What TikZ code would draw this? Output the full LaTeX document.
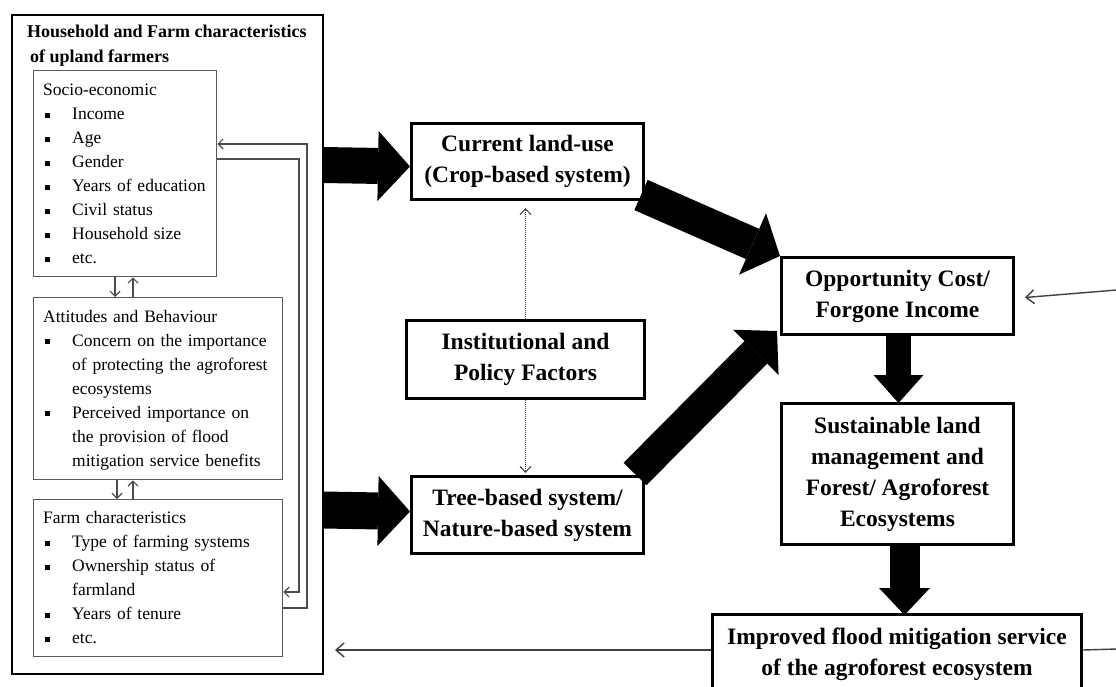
\documentclass[tikz,border=0pt]{standalone}
\usepackage{fontspec}
\setmainfont{Liberation Serif}
\usetikzlibrary{arrows.meta,calc}
% bullet and hanging indent for the item lists
\newcommand\blt{\makebox[29pt][l]{\hspace{1.5pt}\rule[2pt]{5pt}{5pt}}}
\newcommand\cnt{\hspace*{29pt}}

\tikzset{
  outerbox/.style={draw=black, line width=2.2pt, inner sep=0pt, anchor=north west},
  panel/.style={draw=black!65, line width=1.3pt, inner sep=0pt, anchor=north west},
  listtext/.style={inner sep=0pt, anchor=north west, align=left, text width=245pt,
    font=\fontsize{17.5}{24}\selectfont},
  titletext/.style={inner sep=0pt, anchor=north west, align=left,
    font=\fontsize{18}{25}\selectfont\bfseries},
  keybox/.style={draw=black, line width=3pt, inner sep=0pt, anchor=north west,
    align=center, font=\fontsize{23.5}{31}\selectfont\bfseries},
  bigarrow/.style n args={3}{draw=black, line width=#1,
    -{Triangle[width=#2, length=#3, line width=0pt]}},
  fb/.style={draw=black!70, line width=1.2pt, -{Straight Barb[length=5pt, width=10pt]}},
  longfb/.style={draw=black!75, line width=1.4pt, -{Straight Barb[length=8pt, width=14pt]}},
  dotarrow/.style={draw=black!75, line width=1pt, densely dotted,
    -{Straight Barb[length=6pt, width=11pt]}}
}

\begin{document}
\begin{tikzpicture}[x=1pt, y=-1pt]
\fill[white] (0,0) rectangle (1116,687);
\clip (0,0) rectangle (1116,687);

% household and farm characteristics panel
\node[outerbox, minimum width=311pt, minimum height=659pt] (hh) at (11,14) {};
\node[titletext] (title) at (27,19.5)
  {\strut Household and Farm characteristics\\\hspace*{3pt}of upland farmers};

\node[panel, minimum width=183pt, minimum height=206pt] (socio) at (33,70) {};
\node[listtext] (sociotxt) at ($(socio.north west)+(10,8.7)$)
  {\strut Socio-economic\\ \blt Income\\ \blt Age\\ \blt Gender\\
   \blt Years of education\\ \blt Civil status\\ \blt Household size\\ \blt etc.};

\node[panel, minimum width=249pt, minimum height=182pt] (att) at (33,297) {};
\node[listtext] (atttxt) at ($(att.north west)+(10,8)$)
  {\strut Attitudes and Behaviour\\ \blt Concern on the importance\\
   \cnt of protecting the agroforest\\ \cnt ecosystems\\
   \blt Perceived importance on\\ \cnt the provision of flood\\
   \cnt mitigation service benefits};

\node[panel, minimum width=249pt, minimum height=157pt] (farm) at (33,499) {};
\node[listtext] (farmtxt) at ($(farm.north west)+(10,7.5)$)
  {\strut Farm characteristics\\ \blt Type of farming systems\\
   \blt Ownership status of\\ \cnt farmland\\ \blt Years of tenure\\ \blt etc.};

% links inside the panel
\draw[fb] ($(socio.south west)+(82,0)$) -- ($(att.north west)+(82,0)$);
\draw[fb] ($(att.north west)+(100,0)$) -- ($(socio.south west)+(100,0)$);
\draw[fb] ($(att.south west)+(84,0)$) -- ($(farm.north west)+(84,0)$);
\draw[fb] ($(farm.north west)+(100,0)$) -- ($(att.south west)+(100,0)$);
\draw[fb] ($(farm.north east)+(0,109)$) -| (307,144) -- ($(socio.north east)+(0,74)$);
\draw[fb] ($(socio.north east)+(0,89)$) -| (299,592) -- ($(farm.north east)+(0,93)$);

% main boxes
\node[keybox, minimum width=232pt, minimum height=76pt] (current) at (410,122)
  {Current land-use\\(Crop-based system)};
\node[keybox, minimum width=238pt, minimum height=78pt] (inst) at (405,319)
  {Institutional and\\Policy Factors};
\node[keybox, minimum width=232pt, minimum height=77pt] (tree) at (410,475)
  {Tree-based system/\\Nature-based system};
\node[keybox, minimum width=232pt, minimum height=77pt] (opp) at (780,256)
  {Opportunity Cost/\\Forgone Income};
\node[keybox, minimum width=232pt, minimum height=141pt] (sust) at (780,402)
  {Sustainable land\\management and\\Forest/ Agroforest\\Ecosystems};
\node[keybox, minimum width=369pt, minimum height=80pt] (impr) at (711,613)
  {Improved flood mitigation service\\of the agroforest ecosystem};

% block arrows
\draw[bigarrow={36pt}{70pt}{32pt}] ($(hh.north east)+(-1,151)$) -- ($(current.west)+(0,5)$);
\draw[bigarrow={37pt}{70pt}{32pt}] ($(hh.north east)+(-1,496)$) -- ($(tree.west)+(0,-3.5)$);
\draw[bigarrow={33pt}{67pt}{30pt}] ($(current.south east)+(-4,-6)$) -- (opp.north west);
\draw[bigarrow={32pt}{64pt}{30pt}] ($(tree.north east)+(-10,-1)$) -- ($(opp.south west)+(-3,-5)$);
\draw[bigarrow={25pt}{50pt}{28pt}] ($(opp.south)+(1,0)$) -- ($(sust.north)+(1,1)$);
\draw[bigarrow={30pt}{51pt}{27pt}] ($(sust.south)+(7,0)$) -- ($(impr.north -| sust.south)+(7,2)$);

% institutional influence
\draw[dotarrow] (inst.north) -- ($(current.south -| inst.north)+(0,7)$);
\draw[dotarrow] (inst.south) -- ($(tree.north -| inst.south)+(0,-2)$);

% feedback lines
\coordinate (fbtip) at (335,650);
\coordinate (rin) at (1117,290);
\coordinate (rout) at (1117,649);
\draw[longfb] ($(impr.north west)+(0,37)$) -- (fbtip);
\draw[longfb] (rin) -- ($(opp.east)+(10,1.5)$);
\draw[draw=black!75, line width=1.4pt] ($(impr.north east)+(0,37)$) -- (rout);
\end{tikzpicture}
\end{document}
